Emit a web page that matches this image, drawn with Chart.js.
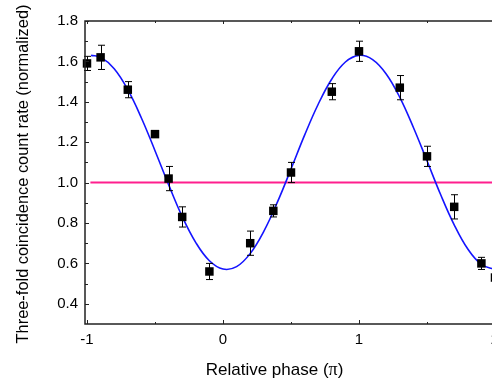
<!DOCTYPE html>
<html><head><meta charset="utf-8">
<script src="https://cdn.jsdelivr.net/npm/chart.js@4.4.0/dist/chart.umd.min.js"></script>
<style>html,body{margin:0;padding:0;overflow:hidden;background:#fff;width:492px;height:379px}
#wrap{position:relative;width:510px;height:379px}</style></head>
<body><div id="wrap"><canvas id="c" width="510" height="379"></canvas></div>
<script>
// measured points
const phase = [-1.0, -0.9, -0.7, -0.5, -0.4, -0.3, -0.1, 0.2, 0.37, 0.5, 0.8, 1.0, 1.3, 1.5, 1.7, 1.9, 2.0];
const rate = [1.59, 1.62, 1.46, 1.24, 1.02, 0.83, 0.56, 0.70, 0.86, 1.05, 1.45, 1.65, 1.47, 1.13, 0.88, 0.60, 0.53];
const rateErr = [0.035, 0.06, 0.04, 0.015, 0.06, 0.05, 0.04, 0.06, 0.03, 0.05, 0.04, 0.05, 0.06, 0.05, 0.06, 0.03, 0.04];
// fitted curve
const fitPhase = [-0.97, -0.9, -0.8, -0.7, -0.6, -0.5, -0.4, -0.3, -0.2, -0.1, 0.0, 0.1, 0.2, 0.3, 0.4, 0.5, 0.6, 0.7, 0.8, 0.9, 1.0, 1.1, 1.2, 1.3, 1.4, 1.5, 1.6, 1.7, 1.8, 1.9, 2.0];
const fitRate = [1.630, 1.621, 1.564, 1.460, 1.320, 1.158, 0.990, 0.832, 0.703, 0.613, 0.572, 0.584, 0.649, 0.759, 0.903, 1.067, 1.235, 1.388, 1.513, 1.597, 1.630, 1.609, 1.538, 1.422, 1.273, 1.108, 0.941, 0.791, 0.671, 0.595, 0.570];
// reference level
const refPhase = [-0.975, 2.0];
const refRate = [1.0, 1.0];
// ticks
const xTickLabels = [-1, 0, 1, 2];
const xMinorTicks = [-0.5, 0.5, 1.5];
const yTickLabels = [0.4, 0.6, 0.8, 1.0, 1.2, 1.4, 1.6, 1.8];
const yMinorTicks = [0.5, 0.7, 0.9, 1.1, 1.3, 1.5, 1.7];
const xTitleParts = ['Relative phase (', '\u03c0', ')'];
const yTitle = 'Three-fold coincidence count rate (normalized)';

const FONT = '"Liberation Sans", Arial, sans-serif';
const SERIF = '"Liberation Serif", "Times New Roman", serif';

const framePlugin = {
  id: 'framePlugin',
  afterDraw(chart) {
    const {ctx, chartArea: a, scales: {x, y}} = chart;
    ctx.save();
    // error bars
    ctx.strokeStyle = '#000';
    ctx.lineWidth = 1;
    phase.forEach((p, i) => {
      const px = Math.round(x.getPixelForValue(p)) + 0.5;
      const y1 = y.getPixelForValue(rate[i] - rateErr[i]);
      const y2 = y.getPixelForValue(rate[i] + rateErr[i]);
      ctx.beginPath();
      ctx.moveTo(px, y1); ctx.lineTo(px, y2);
      ctx.moveTo(px - 3.5, y1); ctx.lineTo(px + 3.5, y1);
      ctx.moveTo(px - 3.5, y2); ctx.lineTo(px + 3.5, y2);
      ctx.stroke();
    });
    // frame
    ctx.strokeStyle = '#222';
    ctx.lineWidth = 1.5;
    ctx.strokeRect(a.left, a.top, a.right - a.left, a.bottom - a.top);
    ctx.lineWidth = 1;
    ctx.beginPath();
    yTickLabels.forEach(v => { const py = Math.round(y.getPixelForValue(v)) + 0.5; ctx.moveTo(a.left, py); ctx.lineTo(a.left + 4, py); });
    yMinorTicks.forEach(v => { const py = Math.round(y.getPixelForValue(v)) + 0.5; ctx.moveTo(a.left, py); ctx.lineTo(a.left + 3, py); });
    xTickLabels.forEach(v => { const px = Math.round(x.getPixelForValue(v)) + 0.5; ctx.moveTo(px, a.bottom); ctx.lineTo(px, a.bottom - 4); ctx.moveTo(px, a.top); ctx.lineTo(px, a.top + 3); });
    xMinorTicks.forEach(v => { const px = Math.round(x.getPixelForValue(v)) + 0.5; ctx.moveTo(px, a.bottom); ctx.lineTo(px, a.bottom - 2); ctx.moveTo(px, a.top); ctx.lineTo(px, a.top + 2); });
    ctx.stroke();
    // x axis title (pi drawn in a serif face)
    ctx.fillStyle = '#000';
    ctx.textBaseline = 'alphabetic';
    ctx.textAlign = 'left';
    const fonts = ['17px ' + FONT, '18px ' + SERIF, '17px ' + FONT];
    const widths = xTitleParts.map((t, i) => { ctx.font = fonts[i]; return ctx.measureText(t).width; });
    const total = widths.reduce((s, w) => s + w, 0);
    let tx = 274.5 - total / 2;
    xTitleParts.forEach((t, i) => { ctx.font = fonts[i]; ctx.fillText(t, tx, 375); tx += widths[i]; });
    // y axis title
    ctx.font = '16.4px ' + FONT;
    ctx.textAlign = 'center';
    ctx.textBaseline = 'middle';
    ctx.translate(23.5, 174);
    ctx.rotate(-Math.PI / 2);
    ctx.fillText(yTitle, 0, 0);
    ctx.restore();
  }
};

new Chart(document.getElementById('c'), {
  type: 'scatter',
  data: {
    datasets: [
      {
        data: phase.map((p, i) => ({x: p, y: rate[i]})),
        pointStyle: 'rect', pointRadius: 6, pointHoverRadius: 6,
        backgroundColor: '#000', borderColor: '#000', borderWidth: 0,
        showLine: false, clip: false
      },
      {
        data: fitPhase.map((p, i) => ({x: p, y: fitRate[i]})),
        showLine: true, borderColor: '#1414ff', borderWidth: 1.6,
        pointRadius: 0, tension: 0.4, fill: false
      },
      {
        data: refPhase.map((p, i) => ({x: p, y: refRate[i]})),
        showLine: true, borderColor: '#ff1f8e', borderWidth: 2,
        pointRadius: 0, fill: false
      }
    ]
  },
  options: {
    responsive: false,
    animation: false,
    events: [],
    layout: {padding: {top: 21, right: 15, left: 0, bottom: 0}},
    plugins: {legend: {display: false}, tooltip: {enabled: false}},
    scales: {
      x: {
        type: 'linear', min: -1.0147, max: 2.0,
        grid: {display: false, drawTicks: false}, border: {display: false},
        afterFit(s) { s.height = 55; },
        afterBuildTicks(s) { s.ticks = xTickLabels.map(v => ({value: v})); },
        ticks: {padding: 7, color: '#000', font: {family: FONT, size: 15}, callback: v => String(v)}
      },
      y: {
        type: 'linear', min: 0.3, max: 1.8,
        grid: {display: false, drawTicks: false}, border: {display: false},
        afterFit(s) { s.width = 85; },
        afterBuildTicks(s) { s.ticks = yTickLabels.map(v => ({value: v})); },
        ticks: {padding: 7, color: '#000', font: {family: FONT, size: 15}, callback: v => Number(v).toFixed(1)}
      }
    }
  },
  plugins: [framePlugin]
});
</script>
</body></html>
